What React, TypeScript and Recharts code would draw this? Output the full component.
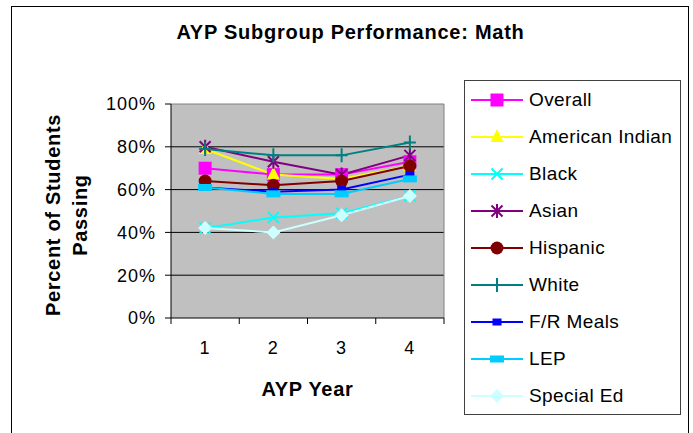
import React from 'react';
import { LineChart, Line, XAxis, YAxis, CartesianGrid, Legend, ReferenceLine } from 'recharts';

const FONT = '"Liberation Sans", Arial, sans-serif';

// ---- data ----
const years = [1, 2, 3, 4];
const overall = [70, 67, 67, 73];
const americanIndian = [79, 67, 65, 71];
const black = [42, 47, 49, 57];
const asian = [80, 73, 67, 76];
const hispanic = [64, 62, 64, 71];
const white = [79, 76, 76, 82];
const frMeals = [61, 59, 60, 67];
const lep = [61, 58, 58, 65];
const specialEd = [42, 40, 48, 57];

const yTicks = [0, 20, 40, 60, 80, 100];
const gridValues = [20, 40, 60, 80];
const categoryBounds = [0.5, 1.5, 2.5, 3.5, 4.5];
const xDomain: [number, number] = [0.5, 4.5];

const title = 'AYP Subgroup Performance: Math';
const xTitle = 'AYP Year';
const yTitleLines = ['Percent of Students', 'Passing'];

type Shape = 'square' | 'triangle' | 'x' | 'asterisk' | 'circle' | 'plus' | 'smallSquare' | 'flatRect' | 'diamond';

const series: { key: string; name: string; color: string; shape: Shape; values: number[] }[] = [
  { key: 'overall', name: 'Overall', color: '#FF00FF', shape: 'square', values: overall },
  { key: 'americanIndian', name: 'American Indian', color: '#FFFF00', shape: 'triangle', values: americanIndian },
  { key: 'black', name: 'Black', color: '#00FFFF', shape: 'x', values: black },
  { key: 'asian', name: 'Asian', color: '#800080', shape: 'asterisk', values: asian },
  { key: 'hispanic', name: 'Hispanic', color: '#800000', shape: 'circle', values: hispanic },
  { key: 'white', name: 'White', color: '#008080', shape: 'plus', values: white },
  { key: 'frMeals', name: 'F/R Meals', color: '#0000FF', shape: 'smallSquare', values: frMeals },
  { key: 'lep', name: 'LEP', color: '#00CCFF', shape: 'flatRect', values: lep },
  { key: 'specialEd', name: 'Special Ed', color: '#CCFFFF', shape: 'diamond', values: specialEd },
];

const data = years.map((year, i) => {
  const row: Record<string, number> = { year };
  series.forEach((s) => {
    row[s.key] = s.values[i];
  });
  return row;
});

function Marker({ shape, cx, cy, color }: { shape: Shape; cx: number; cy: number; color: string }) {
  if (cx == null || cy == null || isNaN(cx) || isNaN(cy)) return null;
  switch (shape) {
    case 'square':
      return <rect x={cx - 6.5} y={cy - 6.5} width={13} height={13} fill={color} />;
    case 'triangle':
      return <polygon points={`${cx},${cy - 8} ${cx + 6.5},${cy + 5} ${cx - 6.5},${cy + 5}`} fill={color} />;
    case 'x':
      return (
        <path
          d={`M${cx - 5.5},${cy - 5.5}L${cx + 5.5},${cy + 5.5}M${cx - 5.5},${cy + 5.5}L${cx + 5.5},${cy - 5.5}`}
          stroke={color}
          strokeWidth={2}
          fill="none"
        />
      );
    case 'asterisk':
      return (
        <path
          d={`M${cx - 5.5},${cy - 5.5}L${cx + 5.5},${cy + 5.5}M${cx - 5.5},${cy + 5.5}L${cx + 5.5},${cy - 5.5}M${cx},${cy - 7}L${cx},${cy + 7}`}
          stroke={color}
          strokeWidth={2}
          fill="none"
        />
      );
    case 'circle':
      return <circle cx={cx} cy={cy} r={6.5} fill={color} />;
    case 'plus':
      return (
        <path
          d={`M${cx - 6},${cy}L${cx + 6},${cy}M${cx},${cy - 7}L${cx},${cy + 7}`}
          stroke={color}
          strokeWidth={2}
          fill="none"
        />
      );
    case 'smallSquare':
      return <rect x={cx - 4.5} y={cy - 3.5} width={9} height={7} fill={color} />;
    case 'flatRect':
      return <rect x={cx - 7} y={cy - 3.5} width={14} height={7} fill={color} />;
    case 'diamond':
      return <polygon points={`${cx},${cy - 7} ${cx + 7},${cy} ${cx},${cy + 7} ${cx - 7},${cy}`} fill={color} />;
    default:
      return null;
  }
}

const renderLegend = (props: any) => {
  const payload: any[] = props.payload || [];
  const ordered = series
    .map((s) => ({ cfg: s, entry: payload.find((e: any) => e.dataKey === s.key) }))
    .filter((o) => o.entry);
  return (
    <div
      style={{
        width: 217,
        height: 335,
        boxSizing: 'border-box',
        border: '1px solid #404040',
        background: '#fff',
        fontFamily: FONT,
      }}
    >
      {ordered.map(({ cfg, entry }) => (
        <div key={cfg.key} style={{ display: 'flex', alignItems: 'center', height: 37.05 }}>
          <svg width={64} height={20} style={{ flex: 'none' }}>
            <line x1={6} x2={58} y1={10} y2={10} stroke={cfg.color} strokeWidth={2} />
            <Marker shape={cfg.shape} cx={32} cy={10} color={cfg.color} />
          </svg>
          <span style={{ fontSize: 19, lineHeight: '22px', letterSpacing: 0.4, color: '#000', whiteSpace: 'nowrap' }}>
            {entry.value}
          </span>
        </div>
      ))}
    </div>
  );
};

const YTitle = (props: any) => {
  const vb = props.viewBox || { x: 0, y: 0, width: 0, height: 0 };
  const cy = vb.y + vb.height / 2 + 4;
  const xs = [vb.x + 53, vb.x + 80];
  return (
    <g>
      {yTitleLines.map((t, i) => (
        <text
          key={t}
          x={xs[i]}
          y={cy}
          transform={`rotate(-90, ${xs[i]}, ${cy})`}
          textAnchor="middle"
          dominantBaseline="central"
          fontFamily={FONT}
          fontSize={20}
          fontWeight="bold"
          letterSpacing={0.7}
          fill="#000"
        >
          {t}
        </text>
      ))}
    </g>
  );
};

const XTitle = (props: any) => {
  const vb = props.viewBox || { x: 0, y: 0, width: 0, height: 0 };
  return (
    <text
      x={vb.x + vb.width / 2}
      y={vb.y + 70}
      textAnchor="middle"
      dominantBaseline="central"
      fontFamily={FONT}
      fontSize={20}
      fontWeight="bold"
      letterSpacing={0.7}
      fill="#000"
    >
      {xTitle}
    </text>
  );
};

export default function App() {
  return (
    <div style={{ position: 'absolute', left: 0, top: 0, width: 693, height: 433, overflow: 'hidden', background: '#fff' }}>
      <div
        style={{
          position: 'absolute',
          left: 11,
          top: 6,
          width: 678,
          height: 460,
          border: '1px solid #000',
          boxSizing: 'border-box',
        }}
      />
      <div
        style={{
          position: 'absolute',
          left: 0,
          top: 22,
          width: 701,
          textAlign: 'center',
          fontFamily: FONT,
          fontSize: 20,
          lineHeight: '20px',
          fontWeight: 'bold',
          letterSpacing: 0.75,
          color: '#000',
        }}
      >
        {title}
      </div>
      <div style={{ position: 'absolute', left: 0, top: 0 }}>
        <LineChart width={693} height={433} data={data} margin={{ top: 104, right: 249, bottom: 0, left: 0 }}>
          <CartesianGrid
            xAxisId="a"
            vertical={false}
            horizontalValues={gridValues}
            stroke="#000"
            fill="#C0C0C0"
            fillOpacity={1}
          />
          <XAxis
            xAxisId="b"
            type="number"
            dataKey="year"
            domain={xDomain}
            allowDataOverflow
            ticks={years}
            interval={0}
            height={114}
            tickSize={0}
            tickMargin={22}
            axisLine={false}
            tickLine={false}
            tick={{ fill: '#000', fontSize: 18, fontFamily: FONT, letterSpacing: 1 }}
            label={{ content: (p: any) => <XTitle {...p} /> }}
          />
          <XAxis
            xAxisId="a"
            type="number"
            dataKey="year"
            domain={xDomain}
            allowDataOverflow
            ticks={categoryBounds}
            tickFormatter={() => ''}
            interval={0}
            height={1}
            tickSize={6}
            axisLine={{ stroke: '#000' }}
            tickLine={{ stroke: '#000' }}
          />
          <YAxis
            domain={[0, 100]}
            ticks={yTicks}
            interval={0}
            width={171}
            tickSize={6}
            tickMargin={9}
            tickFormatter={(v: number) => `${v}%`}
            axisLine={{ stroke: '#000' }}
            tickLine={{ stroke: '#000' }}
            tick={{ fill: '#000', fontSize: 18, fontFamily: FONT, letterSpacing: 1 }}
            label={{ content: (p: any) => <YTitle {...p} /> }}
          />
          <ReferenceLine xAxisId="a" y={100} stroke="#808080" strokeWidth={1} />
          <ReferenceLine xAxisId="a" x={4.5} stroke="#808080" strokeWidth={1} />
          {series.map((s) => (
            <Line
              key={s.key}
              xAxisId="a"
              type="linear"
              dataKey={s.key}
              name={s.name}
              stroke={s.color}
              strokeWidth={2}
              isAnimationActive={false}
              activeDot={false}
              dot={(p: any) => <Marker key={`${s.key}-${p.index}`} shape={s.shape} cx={p.cx} cy={p.cy} color={s.color} />}
            />
          ))}
          <Legend
            layout="horizontal"
            verticalAlign="middle"
            align="center"
            content={renderLegend}
            wrapperStyle={{ position: 'absolute', left: 464, top: 80, width: 217, height: 335 }}
          />
        </LineChart>
      </div>
    </div>
  );
}
